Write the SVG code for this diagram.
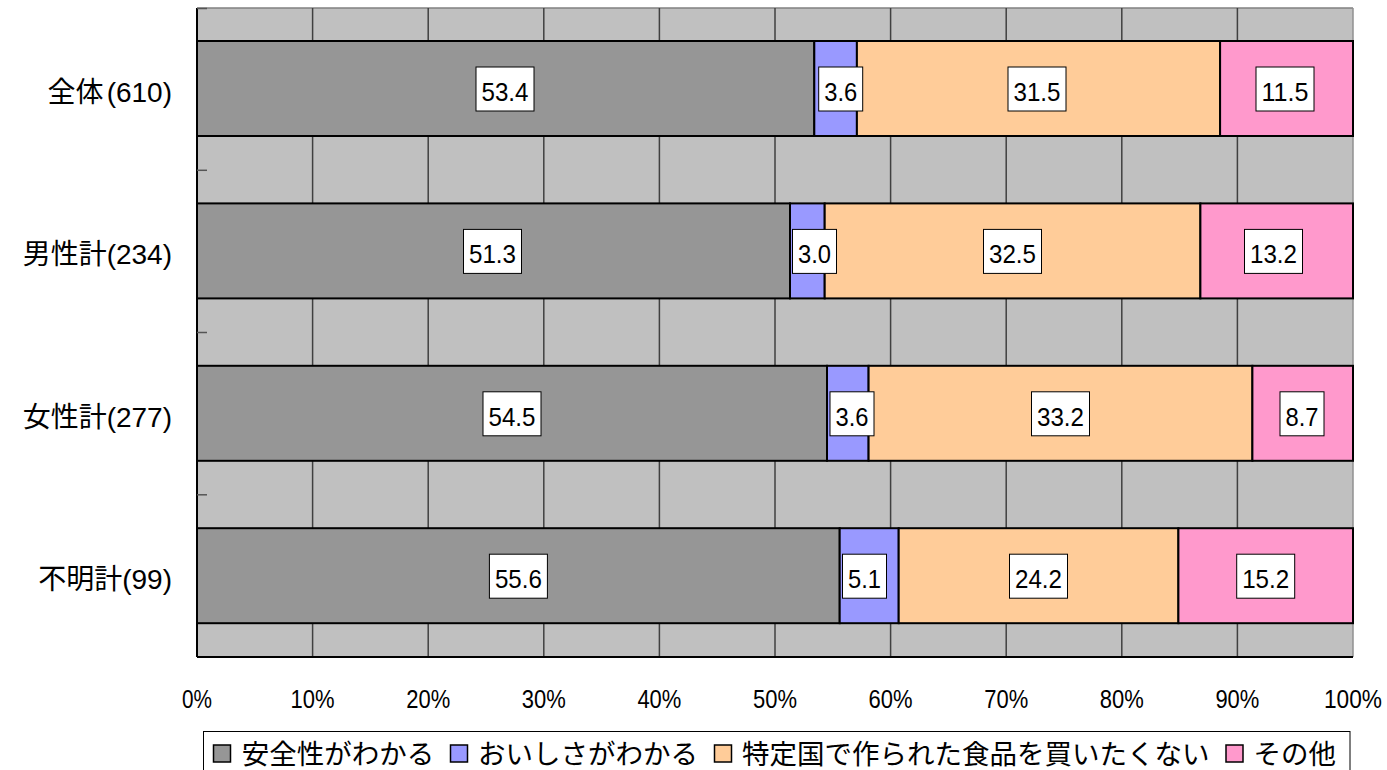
<svg xmlns="http://www.w3.org/2000/svg" width="1387" height="770" viewBox="0 0 1387 770">
<style>
.bg{fill:#C0C0C0}
.grid{stroke:#404040;stroke-width:1.5}
.seg{stroke:#000;stroke-width:2}
.s1{fill:#969696}.s2{fill:#9999FF}.s3{fill:#FFCC99}.s4{fill:#FF99CC}
.lb{fill:#fff;stroke:#000;stroke-width:1}
.lt{font-family:"Liberation Sans",Arial,sans-serif;font-size:26.5px;fill:#000;text-anchor:middle}
.ax{font-family:"Liberation Sans",Arial,sans-serif;font-size:25px;fill:#000;text-anchor:middle}
.cat{font-family:"Liberation Sans","Noto Sans CJK JP",sans-serif;font-size:28px;fill:#000;text-anchor:end}
.lg{font-family:"Noto Sans CJK JP",sans-serif;font-size:27.5px;fill:#000}
.mk{stroke:#000;stroke-width:1.5}
.tick{stroke:#555;stroke-width:1.5}
</style>
<rect width="1387" height="770" fill="#fff"/>
<g id="plot">
<rect class="bg" x="197" y="8" width="1156" height="649"/>
<line x1="197" y1="8" x2="1353" y2="8" stroke="#808080" stroke-width="1.5"/>
<line x1="1353" y1="8" x2="1353" y2="657" stroke="#909090" stroke-width="1.5"/>
<g id="gridlines">
<line class="grid" x1="312.6" y1="8" x2="312.6" y2="657"/>
<line class="grid" x1="428.2" y1="8" x2="428.2" y2="657"/>
<line class="grid" x1="543.8" y1="8" x2="543.8" y2="657"/>
<line class="grid" x1="659.4" y1="8" x2="659.4" y2="657"/>
<line class="grid" x1="775" y1="8" x2="775" y2="657"/>
<line class="grid" x1="890.6" y1="8" x2="890.6" y2="657"/>
<line class="grid" x1="1006.2" y1="8" x2="1006.2" y2="657"/>
<line class="grid" x1="1121.8" y1="8" x2="1121.8" y2="657"/>
<line class="grid" x1="1237.4" y1="8" x2="1237.4" y2="657"/>
</g>
<line x1="197" y1="657" x2="1353" y2="657" stroke="#000" stroke-width="2"/>
<line x1="197" y1="8" x2="197" y2="657" stroke="#000" stroke-width="2"/>
<g id="ticks">
<line class="tick" x1="197" y1="8.5" x2="207" y2="8.5"/>
<line class="tick" x1="197" y1="170.3" x2="207" y2="170.3"/>
<line class="tick" x1="197" y1="332.5" x2="207" y2="332.5"/>
<line class="tick" x1="197" y1="494.8" x2="207" y2="494.8"/>
</g>
</g>
<g id="connectors"></g>
<g id="bar-all">
<rect class="seg s1" x="197" y="41" width="617.3" height="95"/>
<rect class="seg s2" x="814.3" y="41" width="42.6" height="95"/>
<rect class="seg s3" x="856.9" y="41" width="363.2" height="95"/>
<rect class="seg s4" x="1220.1" y="41" width="132.9" height="95"/>
<rect class="lb" x="476" y="67" width="58" height="44"/><text class="lt" x="505" y="101" textLength="47" lengthAdjust="spacingAndGlyphs">53.4</text>
<rect class="lb" x="818.7" y="67" width="44" height="44"/><text class="lt" x="840.7" y="101" textLength="33" lengthAdjust="spacingAndGlyphs">3.6</text>
<rect class="lb" x="1008" y="67" width="58" height="44"/><text class="lt" x="1037" y="101" textLength="47" lengthAdjust="spacingAndGlyphs">31.5</text>
<rect class="lb" x="1256" y="67" width="58" height="44"/><text class="lt" x="1285" y="101" textLength="47" lengthAdjust="spacingAndGlyphs">11.5</text>
</g>
<g id="bar-male">
<rect class="seg s1" x="197" y="203.4" width="593" height="95"/>
<rect class="seg s2" x="790" y="203.4" width="34.7" height="95"/>
<rect class="seg s3" x="824.7" y="203.4" width="375.7" height="95"/>
<rect class="seg s4" x="1200.4" y="203.4" width="152.6" height="95"/>
<rect class="lb" x="463.5" y="229.4" width="58" height="44"/><text class="lt" x="492.5" y="263.4" textLength="47" lengthAdjust="spacingAndGlyphs">51.3</text>
<rect class="lb" x="792.5" y="229.4" width="44" height="44"/><text class="lt" x="814.5" y="263.4" textLength="33" lengthAdjust="spacingAndGlyphs">3.0</text>
<rect class="lb" x="983.5" y="229.4" width="58" height="44"/><text class="lt" x="1012.5" y="263.4" textLength="47" lengthAdjust="spacingAndGlyphs">32.5</text>
<rect class="lb" x="1244.5" y="229.4" width="58" height="44"/><text class="lt" x="1273.5" y="263.4" textLength="47" lengthAdjust="spacingAndGlyphs">13.2</text>
</g>
<g id="bar-female">
<rect class="seg s1" x="197" y="365.8" width="630" height="95"/>
<rect class="seg s2" x="827" y="365.8" width="41.6" height="95"/>
<rect class="seg s3" x="868.6" y="365.8" width="383.8" height="95"/>
<rect class="seg s4" x="1252.4" y="365.8" width="100.6" height="95"/>
<rect class="lb" x="483" y="391.8" width="58" height="44"/><text class="lt" x="512" y="425.8" textLength="47" lengthAdjust="spacingAndGlyphs">54.5</text>
<rect class="lb" x="830" y="391.8" width="44" height="44"/><text class="lt" x="852" y="425.8" textLength="33" lengthAdjust="spacingAndGlyphs">3.6</text>
<rect class="lb" x="1031.5" y="391.8" width="58" height="44"/><text class="lt" x="1060.5" y="425.8" textLength="47" lengthAdjust="spacingAndGlyphs">33.2</text>
<rect class="lb" x="1280" y="391.8" width="44" height="44"/><text class="lt" x="1302" y="425.8" textLength="33" lengthAdjust="spacingAndGlyphs">8.7</text>
</g>
<g id="bar-unknown">
<rect class="seg s1" x="197" y="528.2" width="642.7" height="95"/>
<rect class="seg s2" x="839.7" y="528.2" width="59" height="95"/>
<rect class="seg s3" x="898.7" y="528.2" width="279.7" height="95"/>
<rect class="seg s4" x="1178.4" y="528.2" width="174.6" height="95"/>
<rect class="lb" x="489.4" y="554.2" width="58" height="44"/><text class="lt" x="518.4" y="588.2" textLength="47" lengthAdjust="spacingAndGlyphs">55.6</text>
<rect class="lb" x="842.5" y="554.2" width="44" height="44"/><text class="lt" x="864.5" y="588.2" textLength="33" lengthAdjust="spacingAndGlyphs">5.1</text>
<rect class="lb" x="1009.5" y="554.2" width="58" height="44"/><text class="lt" x="1038.5" y="588.2" textLength="47" lengthAdjust="spacingAndGlyphs">24.2</text>
<rect class="lb" x="1236.7" y="554.2" width="58" height="44"/><text class="lt" x="1265.7" y="588.2" textLength="47" lengthAdjust="spacingAndGlyphs">15.2</text>
</g>
<g id="category-labels">
<text class="cat" x="172" y="101.5">全体<tspan dx="3">(610)</tspan></text>
<text class="cat" x="172" y="264">男性計(234)</text>
<text class="cat" x="172" y="426.5">女性計(277)</text>
<text class="cat" x="172" y="589">不明計(99)</text>
</g>
<g id="x-axis-labels">
<text class="ax" x="197" y="708" textLength="30" lengthAdjust="spacingAndGlyphs">0%</text>
<text class="ax" x="312.6" y="708" textLength="44" lengthAdjust="spacingAndGlyphs">10%</text>
<text class="ax" x="428.2" y="708" textLength="44" lengthAdjust="spacingAndGlyphs">20%</text>
<text class="ax" x="543.8" y="708" textLength="44" lengthAdjust="spacingAndGlyphs">30%</text>
<text class="ax" x="659.4" y="708" textLength="44" lengthAdjust="spacingAndGlyphs">40%</text>
<text class="ax" x="775" y="708" textLength="44" lengthAdjust="spacingAndGlyphs">50%</text>
<text class="ax" x="890.6" y="708" textLength="44" lengthAdjust="spacingAndGlyphs">60%</text>
<text class="ax" x="1006.2" y="708" textLength="44" lengthAdjust="spacingAndGlyphs">70%</text>
<text class="ax" x="1121.8" y="708" textLength="44" lengthAdjust="spacingAndGlyphs">80%</text>
<text class="ax" x="1237.4" y="708" textLength="44" lengthAdjust="spacingAndGlyphs">90%</text>
<text class="ax" x="1353" y="708" textLength="58" lengthAdjust="spacingAndGlyphs">100%</text>
</g>
<g id="legend">
<rect x="203.5" y="731.5" width="1146.5" height="60" fill="#fff" stroke="#000" stroke-width="1"/>
<rect class="mk s1" x="213.5" y="745" width="17" height="17"/>
<text class="lg" x="241.7" y="764">安全性がわかる</text>
<rect class="mk s2" x="450.5" y="745" width="17" height="17"/>
<text class="lg" x="478" y="764">おいしさがわかる</text>
<rect class="mk s3" x="714.5" y="745" width="17" height="17"/>
<text class="lg" x="742" y="764">特定国で作られた食品を買いたくない</text>
<rect class="mk s4" x="1226" y="745" width="17" height="17"/>
<text class="lg" x="1253.5" y="764">その他</text>
</g>
</svg>
